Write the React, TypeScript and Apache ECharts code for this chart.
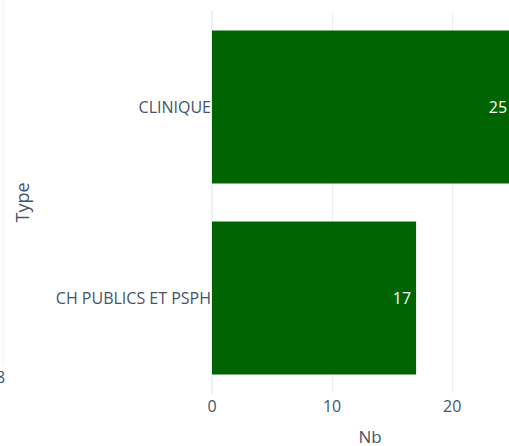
import React, { useEffect, useRef } from "react";
import * as echarts from "echarts";

const categories = ["CLINIQUE", "CH PUBLICS ET PSPH"];
const values = [25, 17];
const xTicks = [0, 10, 20];
const xMax = 26.32;
const strayLabel = "8";

export default function App() {
  const ref = useRef<HTMLDivElement>(null);
  useEffect(() => {
    document.body.style.margin = "0";
    const chart = echarts.init(ref.current!, null, { renderer: "svg" });
    const font = '"Open Sans", verdana, arial, sans-serif';
    const txt = "#44546a";
    chart.setOption({
      animation: false,
      backgroundColor: "#ffffff",
      textStyle: { fontFamily: font },
      grid: {
        left: 212,
        top: 11.5,
        width: 316,
        height: 382,
        containLabel: false,
        outerBoundsMode: "none",
      },
      xAxis: {
        type: "value",
        min: 0,
        max: xMax,
        interval: xTicks[1] - xTicks[0],
        name: "Nb",
        nameLocation: "middle",
        nameGap: 34,
        nameTextStyle: { color: txt, fontSize: 17, lineHeight: 17, fontFamily: font },
        axisLine: { show: false },
        axisTick: { show: false },
        axisLabel: {
          color: txt,
          fontSize: 16,
          margin: 4,
          fontFamily: font,
          showMaxLabel: false,
          formatter: (v: number) => (xTicks.includes(v) ? String(v) : ""),
        },
        splitLine: { show: true, lineStyle: { color: "#ebf0f8", width: 1 } },
      },
      yAxis: {
        type: "category",
        data: categories,
        inverse: true,
        name: "Type",
        nameLocation: "middle",
        nameGap: 181,
        nameRotate: 90,
        nameTextStyle: { color: txt, fontSize: 18, fontFamily: font },
        axisLine: { show: true, lineStyle: { color: "#ebf0f8", width: 2 } },
        axisTick: { show: false },
        axisLabel: { color: txt, fontSize: 16, margin: 1, fontFamily: font },
        splitLine: { show: false },
      },
      series: [
        {
          type: "bar",
          data: values,
          barCategoryGap: "20%",
          itemStyle: { color: "#006400" },
          label: {
            show: true,
            position: "insideRight",
            distance: 5,
            color: "#ffffff",
            fontSize: 16,
            fontFamily: font,
          },
        },
      ],
      graphic: [
        {
          type: "line",
          shape: { x1: 3, y1: 0, x2: 3, y2: 366 },
          style: { stroke: "#ebf0f8", lineWidth: 1 },
        },
        {
          type: "text",
          x: -4,
          y: 369,
          style: { text: strayLabel, fill: txt, fontSize: 16, fontFamily: font },
        },
      ],
    });
    return () => chart.dispose();
  }, []);
  return (
    <div style={{ width: 509, height: 446, overflow: "hidden" }}>
      <div ref={ref} style={{ width: 540, height: 446 }} />
    </div>
  );
}
